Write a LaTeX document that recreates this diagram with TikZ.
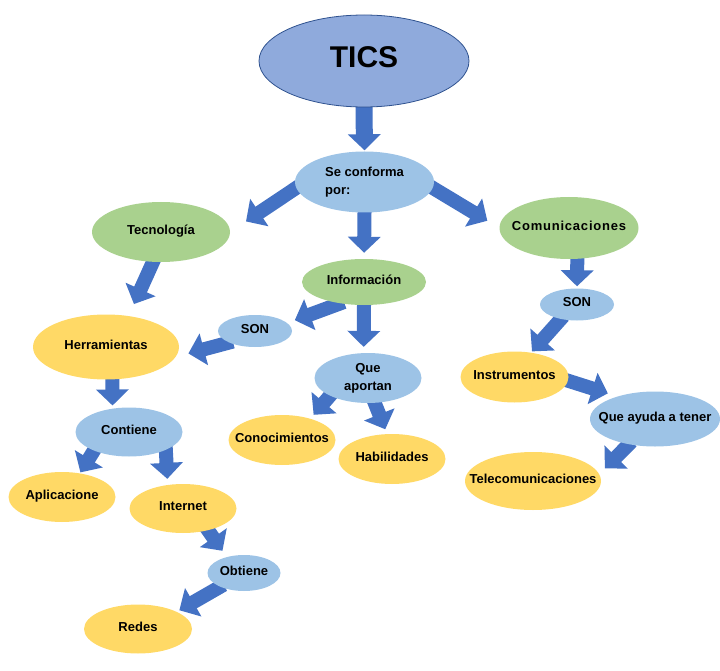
\documentclass[tikz,border=0pt]{standalone}
\usepackage{fontspec}
\setmainfont{Liberation Sans}
\usetikzlibrary{arrows.meta,shapes.geometric,backgrounds}

\definecolor{cielo}{HTML}{9DC3E6}
\definecolor{hoja}{HTML}{A9D18E}
\definecolor{sol}{HTML}{FFD966}
\definecolor{lila}{HTML}{8FAADC}
\definecolor{borde}{HTML}{2F528F}
\definecolor{flecha}{HTML}{4472C4}
\newcommand{\tx}[1]{\makebox[0pt]{#1}}

\begin{document}
\begin{tikzpicture}[x=1pt,y=-1pt,
  globo/.style={ellipse,inner sep=0pt,font=\bfseries\fontsize{13}{18}\selectfont},
  linea/.style={text height=9pt,text depth=5pt},
  azul/.style={globo,linea,fill=cielo},
  nube/.style={globo,fill=cielo,align=center},
  verde/.style={globo,linea,fill=hoja},
  amarillo/.style={globo,linea,fill=sol},
  tam/.style 2 args={minimum width=#1,minimum height=#2},
  flechota/.style={draw=flecha,line width=14pt,-{Triangle[length=16pt,width=32pt]},shorten <=-4pt}]
  \useasboundingbox (0,0) rectangle (720,671);
  % nodo principal
  \node[globo,fill=lila,draw=borde,line width=0.8pt,tam={210}{92},
        font=\bfseries\fontsize{30}{36}\selectfont,text depth=7pt] (tics) at (364,61) {TICS};
  \node[nube,tam={139}{61},align=left] (sec) at (364.5,182) {Se conforma\\por:};
  % ramas
  \node[verde,tam={138}{60}] (tec) at (161,232) {\tx{Tecnología}};
  \node[verde,tam={139}{62}] (com) at (569,228) {\tx{\addfontfeature{LetterSpace=6}Comunicaciones}};
  \node[verde,tam={124}{46}] (inf) at (364,282) {\tx{Información}};
  \node[azul,tam={74}{32}] (sonL) at (255,331) {\tx{SON}};
  \node[azul,tam={74}{32}] (sonR) at (577,304.5) {\tx{SON}};
  \node[amarillo,tam={146}{65}] (her) at (106,347) {\tx{Herramientas}};
  \node[nube,tam={107}{50}] (qap) at (368,378) {Que\\aportan};
  \node[amarillo,tam={108}{51}] (ins) at (514.5,377) {\tx{Instrumentos}};
  \node[azul,tam={130}{55}] (qat) at (655,419) {\tx{Que ayuda a tener}};
  \node[azul,tam={107}{49}] (con) at (129,432) {\tx{Contiene}};
  \node[amarillo,tam={107}{50}] (cnc) at (282,440) {\tx{Conocimientos}};
  \node[amarillo,tam={107}{50}] (hab) at (392,459) {\tx{Habilidades}};
  \node[amarillo,tam={136}{58}] (tel) at (533,481) {\tx{Telecomunicaciones}};
  \node[amarillo,tam={107}{50}] (apl) at (62,497) {\tx{Aplicacione}};
  \node[amarillo,tam={107}{49}] (int) at (183,508.5) {\tx{Internet}};
  \node[azul,tam={73}{36}] (obt) at (244,573) {\tx{Obtiene}};
  \node[amarillo,tam={108}{49}] (red) at (138,629) {\tx{Redes}};
  % flechas de bloque, detras de los globos
  \begin{scope}[on background layer]
    \draw[flechota,line width=17pt,shorten >=1pt] (tics.south) -- (sec.north);
    \draw[flechota,shorten >=19pt] (sec.185) -- (tec.east);
    \draw[flechota,shorten >=14pt] (sec.355) -- (com.west);
    \draw[flechota,shorten >=6pt] (sec.south) -- (inf.north);
    \draw[flechota,shorten >=13pt] (tec.255) -- (her.54);
    \draw[flechota,shorten >=8pt] (inf.222) -- (sonL.14);
    \draw[flechota,shorten >=13pt] (sonL.204) -- (her.352);
    \draw[flechota,shorten >=6pt] (inf.south) -- (qap.100);
    \draw[flechota,shorten >=3pt] (her.281) -- (con.125);
    \draw[flechota,shorten >=1pt] (con.208) -- (apl.53);
    \draw[flechota,shorten >=6pt] (con.334) -- (int.123);
    \draw[flechota,shorten >=5pt] (qap.205) -- (cnc.37);
    \draw[flechota,shorten >=5pt] (qap.285) -- (hab.101);
    \draw[flechota,shorten >=2pt] (com.285) -- (sonR.north);
    \draw[flechota,shorten >=1.5pt] (sonR.222) -- (ins.56);
    \draw[flechota,shorten >=10pt] (ins.356) -- (qat.149);
    \draw[flechota,shorten >=8pt] (qat.224) -- (tel.6);
    \draw[flechota,shorten >=7.5pt] (int.319) -- (obt.137);
    \draw[flechota,shorten >=3pt] (obt.210) -- (red.24);
  \end{scope}
\end{tikzpicture}
\end{document}
